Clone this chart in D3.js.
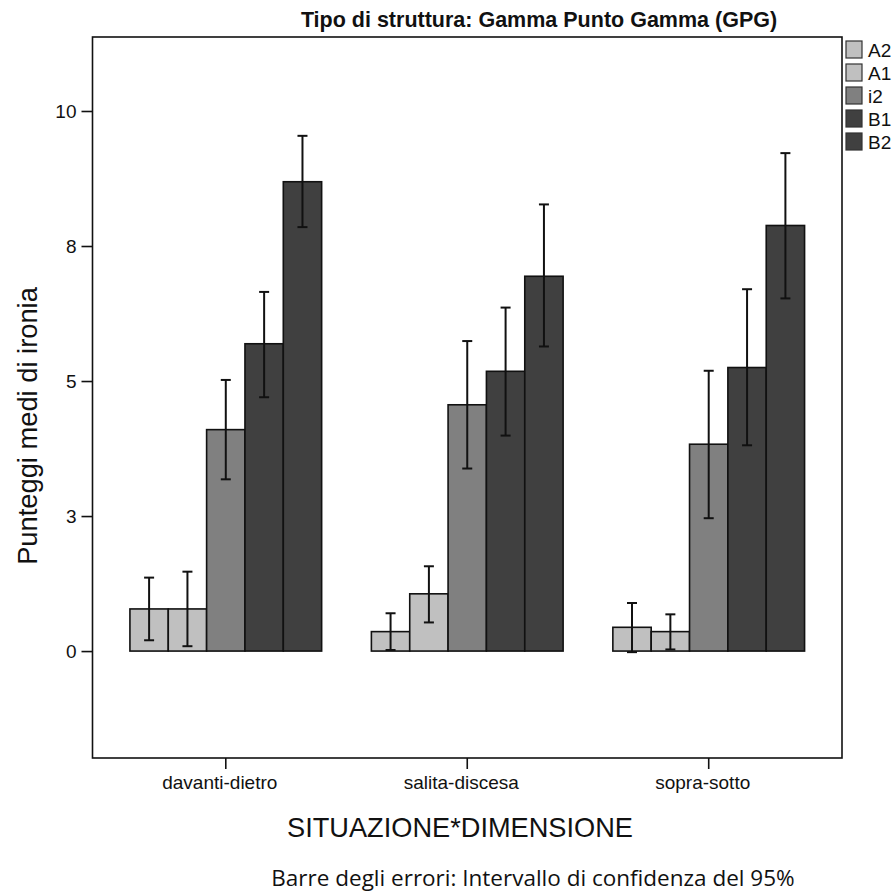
<!DOCTYPE html>
<html>
<head>
<meta charset="utf-8">
<script src="https://cdn.jsdelivr.net/npm/d3@7"></script>
<style>
  html, body { margin: 0; padding: 0; background: #fff; }
  svg { display: block; }
</style>
</head>
<body>
<svg id="chart" width="896" height="894"></svg>
<script>
// Categories (x axis) and series (legend)
const categories = ["davanti-dietro", "salita-discesa", "sopra-sotto"];
const seriesNames = ["A2", "A1", "i2", "B1", "B2"];

// Mean irony scores per series, one value per category
const meanA2 = [0.78, 0.36, 0.44];
const meanA1 = [0.78, 1.06, 0.36];
const meanI2 = [4.10, 4.56, 3.83];
const meanB1 = [5.69, 5.18, 5.25];
const meanB2 = [8.69, 6.94, 7.88];

// 95% confidence interval bounds
const lowA2 = [0.20, 0.02, -0.02];
const lowA1 = [0.09, 0.53, 0.03];
const lowI2 = [3.18, 3.38, 2.46];
const lowB1 = [4.70, 3.99, 3.81];
const lowB2 = [7.85, 5.64, 6.53];

const highA2 = [1.36, 0.70, 0.89];
const highA1 = [1.47, 1.57, 0.68];
const highI2 = [5.02, 5.74, 5.19];
const highB1 = [6.65, 6.36, 6.70];
const highB2 = [9.54, 8.27, 9.22];

// Y axis ticks and their printed labels
const yTickValues = [0, 2.5, 5, 7.5, 10];
const yTickLabels = ["0", "3", "5", "8", "10"];

const seriesColors = ["#c0c0c0", "#c0c0c0", "#808080", "#404040", "#404040"];

const means = [meanA2, meanA1, meanI2, meanB1, meanB2];
const lows = [lowA2, lowA1, lowI2, lowB1, lowB2];
const highs = [highA2, highA1, highI2, highB1, highB2];

const rows = [];
categories.forEach((c, ci) => {
  seriesNames.forEach((s, si) => {
    rows.push({cat: c, series: s, value: means[si][ci], lo: lows[si][ci], hi: highs[si][ci], color: seriesColors[si]});
  });
});

const svg = d3.select("#chart");
const plot = {left: 92.5, right: 842, top: 37, bottom: 758};

const x0 = d3.scaleBand()
  .domain(categories)
  .range([plot.left, plot.right])
  .paddingInner(0.206)
  .paddingOuter(0.155);

const x1 = d3.scaleBand()
  .domain(seriesNames)
  .range([0, x0.bandwidth()]);

const y = d3.scaleLinear()
  .domain([-1.98, 11.37])
  .range([plot.bottom, plot.top]);

const font = "'Liberation Sans', Arial, sans-serif";

// Bars
svg.append("g").selectAll("rect")
  .data(rows)
  .join("rect")
  .attr("x", d => x0(d.cat) + x1(d.series))
  .attr("y", d => y(Math.max(0, d.value)))
  .attr("width", x1.bandwidth())
  .attr("height", d => Math.abs(y(d.value) - y(0)))
  .attr("fill", d => d.color)
  .attr("stroke", "#111")
  .attr("stroke-width", 1.6);

// Error bars
const eb = svg.append("g").attr("stroke", "#111").attr("stroke-width", 2);
const capHalf = 5;
rows.forEach(d => {
  const cx = x0(d.cat) + x1(d.series) + x1.bandwidth() / 2;
  eb.append("line").attr("x1", cx).attr("x2", cx).attr("y1", y(d.lo)).attr("y2", y(d.hi));
  eb.append("line").attr("x1", cx - capHalf).attr("x2", cx + capHalf).attr("y1", y(d.lo)).attr("y2", y(d.lo));
  eb.append("line").attr("x1", cx - capHalf).attr("x2", cx + capHalf).attr("y1", y(d.hi)).attr("y2", y(d.hi));
});

// Plot frame
svg.append("rect")
  .attr("x", plot.left).attr("y", plot.top)
  .attr("width", plot.right - plot.left).attr("height", plot.bottom - plot.top)
  .attr("fill", "none").attr("stroke", "#111").attr("stroke-width", 1.6);

// Y axis
const yAxis = svg.append("g")
  .attr("transform", `translate(${plot.left},0)`)
  .call(d3.axisLeft(y).tickValues(yTickValues).tickSize(11).tickPadding(5)
    .tickFormat((d, i) => yTickLabels[i]));
yAxis.select(".domain").remove();
yAxis.selectAll(".tick line").attr("stroke", "#111").attr("stroke-width", 1.6);
yAxis.selectAll(".tick text").attr("font-family", font).attr("font-size", 19).attr("fill", "#111");

// X axis
const xAxis = svg.append("g")
  .attr("transform", `translate(0,${plot.bottom})`)
  .call(d3.axisBottom(x0).tickSize(11).tickPadding(7));
xAxis.select(".domain").remove();
xAxis.selectAll(".tick line").attr("stroke", "#111").attr("stroke-width", 1.6);
xAxis.selectAll(".tick text").attr("font-family", font).attr("font-size", 19)
  .attr("dx", -6).attr("fill", "#111");

// Titles
svg.append("text")
  .attr("x", 539).attr("y", 27)
  .attr("text-anchor", "middle")
  .attr("font-family", font).attr("font-weight", "bold").attr("font-size", 21.5)
  .attr("fill", "#111")
  .text("Tipo di struttura: Gamma Punto Gamma (GPG)");

svg.append("text")
  .attr("transform", "translate(37,426) rotate(-90)")
  .attr("text-anchor", "middle")
  .attr("font-family", font).attr("font-size", 27.3)
  .attr("fill", "#111")
  .text("Punteggi medi di ironia");

svg.append("text")
  .attr("x", 460).attr("y", 837)
  .attr("text-anchor", "middle")
  .attr("font-family", font).attr("font-size", 27.2)
  .attr("fill", "#111")
  .text("SITUAZIONE*DIMENSIONE");

svg.append("text")
  .attr("x", 533).attr("y", 886)
  .attr("text-anchor", "middle")
  .attr("font-family", "'Open Sans', sans-serif").attr("font-size", 22.5)
  .attr("fill", "#111")
  .text("Barre degli errori: Intervallo di confidenza del 95%");

// Legend
const legend = svg.append("g").attr("transform", "translate(846,41)");
seriesNames.forEach((s, i) => {
  const g = legend.append("g").attr("transform", `translate(0,${i * 23})`);
  g.append("rect").attr("width", 16).attr("height", 17)
    .attr("fill", seriesColors[i]).attr("stroke", "#333").attr("stroke-width", 1.2);
  g.append("text").attr("x", 22).attr("y", 16)
    .attr("font-family", font).attr("font-size", 19).attr("fill", "#111")
    .text(s);
});
</script>
</body>
</html>
